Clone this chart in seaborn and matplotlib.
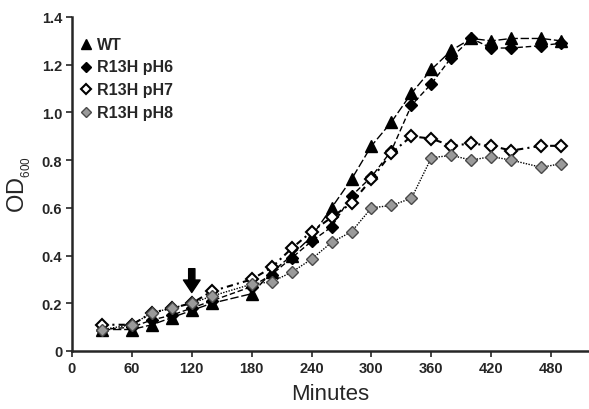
import numpy as np
import matplotlib
matplotlib.use('Agg')
import matplotlib.pyplot as plt
from matplotlib.lines import Line2D
import seaborn as sns
import pandas as pd

sns.set_style('ticks')
plt.rcParams['font.family'] = ['Liberation Sans', 'DejaVu Sans']

# growth curves, OD600
minutes = [30, 60, 80, 100, 120, 140, 180, 200, 220, 240, 260, 280,
           300, 320, 340, 360, 380, 400, 420, 440, 470, 490]
wt = [0.09, 0.09, 0.11, 0.14, 0.17, 0.20, 0.24, 0.33, 0.40, 0.48, 0.60, 0.72,
      0.86, 0.96, 1.08, 1.18, 1.26, 1.31, 1.30, 1.31, 1.31, 1.30]
ph6 = [0.09, 0.10, 0.13, 0.15, 0.18, 0.21, 0.27, 0.32, 0.39, 0.46, 0.52, 0.65,
       0.73, 0.84, 1.03, 1.12, 1.23, 1.31, 1.27, 1.27, 1.28, 1.29]
ph7 = [0.11, 0.11, 0.16, 0.18, 0.20, 0.25, 0.30, 0.35, 0.43, 0.50, 0.56, 0.62,
       0.72, 0.83, 0.90, 0.89, 0.86, 0.87, 0.86, 0.84, 0.86, 0.86]
ph8 = [0.09, 0.11, 0.16, 0.18, 0.20, 0.23, 0.28, 0.29, 0.33, 0.385, 0.455, 0.50,
       0.60, 0.61, 0.64, 0.81, 0.82, 0.80, 0.815, 0.80, 0.77, 0.785]

labels = ['WT', 'R13H pH6', 'R13H pH7', 'R13H pH8']
series = [wt, ph6, ph7, ph8]

styles = {
    'WT':       dict(marker='^', ms=8.5, mfc='black', mec='black', ls=(0, (6, 2)), lw=1.0),
    'R13H pH6': dict(marker='D', ms=6.5, mfc='black', mec='black', ls=(0, (4, 2)), lw=1.0),
    'R13H pH7': dict(marker='D', ms=6.5, mfc='white', mec='black', mew=1.5, ls=(0, (3, 2, 1, 2)), lw=1.5),
    'R13H pH8': dict(marker='D', ms=6.5, mfc='#9a9a9a', mec='#4a4a4a', ls=(0, (1, 1)), lw=1.0),
}

df = pd.DataFrame({'Minutes': minutes * 4,
                   'OD': sum(series, []),
                   'strain': np.repeat(labels, len(minutes))})

fig = plt.figure(figsize=(5.89, 4.10), dpi=100)
ax = fig.add_axes([0.1222, 0.1415, 0.878, 0.8146])

for name in labels:
    sub = df[df['strain'] == name]
    st = styles[name]
    sns.lineplot(data=sub, x='Minutes', y='OD', ax=ax, color='black',
                 marker=st['marker'], markersize=st['ms'],
                 markerfacecolor=st['mfc'], markeredgecolor=st['mec'],
                 markeredgewidth=st.get('mew', 1.0),
                 linestyle=st['ls'], linewidth=st['lw'], legend=False)

# arrow marking the treatment time
ax.annotate('', xy=(120, 0.245), xytext=(120, 0.345),
            arrowprops=dict(arrowstyle='simple,head_width=1.2,head_length=0.9,tail_width=0.45',
                            mutation_scale=10, color='black', shrinkA=0, shrinkB=0))

ax.set_xlim(0, 518)
ax.set_ylim(0, 1.4)
ax.set_xticks(range(0, 481, 60))
ax.set_yticks([0, 0.2, 0.4, 0.6, 0.8, 1.0, 1.2, 1.4])
ax.set_yticklabels(['0', '0.2', '0.4', '0.6', '0.8', '1.0', '1.2', '1.4'])
for t in ax.get_xticklabels() + ax.get_yticklabels():
    t.set_fontweight('bold')
    t.set_fontsize(10.5)
ax.tick_params(direction='out', length=4, width=1.2, pad=3)
for s in ['left', 'bottom']:
    ax.spines[s].set_linewidth(1.8)
sns.despine(ax=ax)

ax.set_xlabel('Minutes', fontsize=16, labelpad=6)
ax.set_ylabel(r'$\mathregular{OD_{_{600}}}$', fontsize=17, labelpad=6)

handles = [Line2D([], [], linestyle='none', marker=styles[n]['marker'],
                  markersize=styles[n]['ms'] - 1, markerfacecolor=styles[n]['mfc'],
                  markeredgecolor=styles[n]['mec'],
                  markeredgewidth=styles[n].get('mew', 1.0)) for n in labels]
leg = ax.legend(handles, labels, loc='upper left', bbox_to_anchor=(0.0, 0.97),
                frameon=False, handlelength=0.6, handletextpad=0.5,
                labelspacing=0.55, borderaxespad=0.3)
for t in leg.get_texts():
    t.set_fontweight('bold')
    t.set_fontsize(11.5)

fig.savefig('out.png', dpi=100)
